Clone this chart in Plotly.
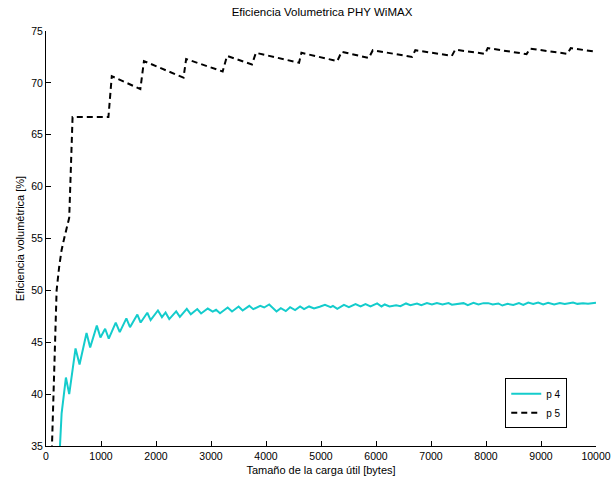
import plotly.graph_objects as go

# p 4 (cyan, solid)
x4 = [250, 284, 362, 422, 537, 610, 737, 803, 924, 990, 1075, 1141, 1268, 1341,
      1461, 1527, 1661, 1721, 1842, 1902, 2035, 2108, 2174, 2241, 2367, 2434,
      2560, 2633, 2750, 2820, 2941, 3031, 3092, 3164, 3303, 3382, 3502, 3575,
      3696, 3768, 3895, 3967, 4058, 4191, 4269, 4360, 4438, 4529, 4620, 4692,
      4783, 4873, 4976, 5072, 5175, 5217, 5296, 5417, 5507, 5628, 5719, 5809,
      5900, 6021, 6100, 6159, 6245, 6366, 6444, 6546, 6625, 6745, 6824, 6926,
      7017, 7107, 7210, 7319, 7380, 7452, 7591, 7669, 7772, 7862, 7953, 8040,
      8122, 8225, 8297, 8393, 8496, 8599, 8677, 8768, 8859, 8949, 9040, 9130,
      9239, 9342, 9432, 9583, 9662, 9764, 9855, 10000]
y4 = [34.6, 38.15, 41.6, 40.0, 44.4, 42.85, 45.9, 44.5, 46.6, 45.45, 46.3, 45.35, 46.9, 45.97,
      47.3, 46.45, 47.67, 46.9, 47.84, 47.13, 48.06, 47.42, 47.87, 47.23, 47.97, 47.45,
      48.22, 47.7, 48.2, 47.77, 48.25, 47.96, 48.13, 47.8, 48.35, 47.96, 48.45, 48.06,
      48.51, 48.19, 48.51, 48.35, 48.64, 47.96, 48.29, 48.0, 48.38, 48.1, 48.45, 48.19,
      48.45, 48.25, 48.42, 48.6, 48.38, 48.51, 48.22, 48.6, 48.38, 48.68, 48.45, 48.68,
      48.45, 48.74, 48.45, 48.64, 48.45, 48.57, 48.48, 48.74, 48.57, 48.74, 48.57, 48.77,
      48.64, 48.77, 48.64, 48.77, 48.62, 48.68, 48.77, 48.57, 48.8, 48.64, 48.77, 48.77,
      48.64, 48.74, 48.54, 48.7, 48.6, 48.77, 48.6, 48.83, 48.68, 48.83, 48.64, 48.8,
      48.64, 48.77, 48.68, 48.83, 48.7, 48.77, 48.7, 48.8]

# p 5 (black, dashed)
x5 = [100, 130, 160, 193, 240, 284, 330, 375, 422, 483, 1135, 1196, 1715, 1781,
      2500, 2548, 3212, 3291, 3744, 3817, 4601, 4644, 5296, 5375, 5870, 5942,
      6655, 6715, 7379, 7440, 7983, 8031, 8737, 8799, 9480, 9541, 10000]
y5 = [33.5, 39.7, 45.3, 50.0, 52.3, 53.9, 55.0, 55.9, 57.0, 66.7, 66.7, 70.65, 69.4, 72.1,
      70.5, 72.3, 71.1, 72.6, 71.78, 72.9, 71.94, 72.9, 72.1, 73.0, 72.4, 73.15,
      72.5, 73.15, 72.6, 73.2, 72.8, 73.35, 72.77, 73.3, 72.8, 73.35, 73.0]

xticks = [0, 1000, 2000, 3000, 4000, 5000, 6000, 7000, 8000, 9000, 10000]
yticks = [35, 40, 45, 50, 55, 60, 65, 70, 75]

title = "Eficiencia Volumetrica PHY WiMAX"
xlabel = "Tamaño de la carga útil [bytes]"
ylabel = "Eficiencia volumétrica [%]"

FONT = "Liberation Sans, Arial, sans-serif"

fig = go.Figure()
fig.add_trace(go.Scatter(x=x4, y=y4, mode="lines", name="p 4",
                         line=dict(color="#14CCCC", width=2)))
fig.add_trace(go.Scatter(x=x5, y=y5, mode="lines", name="p 5",
                         line=dict(color="black", width=2, dash="6px,4px")))

axis_common = dict(showline=True, linecolor="black", linewidth=1, ticks="inside",
                   ticklen=5, tickcolor="black", showgrid=False, zeroline=False,
                   mirror=False, automargin=False, ticklabeloverflow="allow",
                   tickfont=dict(family=FONT, size=10.5, color="black"))

fig.update_layout(
    width=611, height=479,
    margin=dict(l=46, r=15, t=31, b=33),
    paper_bgcolor="white", plot_bgcolor="white",
    font=dict(family=FONT, size=11, color="black"),
    title=dict(text=title, x=0.527, xanchor="center", y=0.975, yanchor="middle",
               font=dict(family=FONT, size=11.5, color="black")),
    xaxis=dict(range=[0, 10000], tickmode="array", tickvals=xticks,
               ticktext=[str(v) for v in xticks],
               title=dict(text=xlabel, standoff=5, font=dict(family=FONT, size=11)),
               **axis_common),
    yaxis=dict(range=[35, 75], tickmode="array", tickvals=yticks,
               ticktext=[str(v) for v in yticks],
               title=dict(text=ylabel, standoff=4, font=dict(family=FONT, size=11)),
               **axis_common),
    legend=dict(x=0.835, y=0.163, xanchor="left", yanchor="top",
                bordercolor="black", borderwidth=1, bgcolor="white",
                font=dict(family=FONT, size=10, color="black"),
                tracegroupgap=0, itemwidth=30),
    showlegend=True,
)

fig.write_html("out.html")
